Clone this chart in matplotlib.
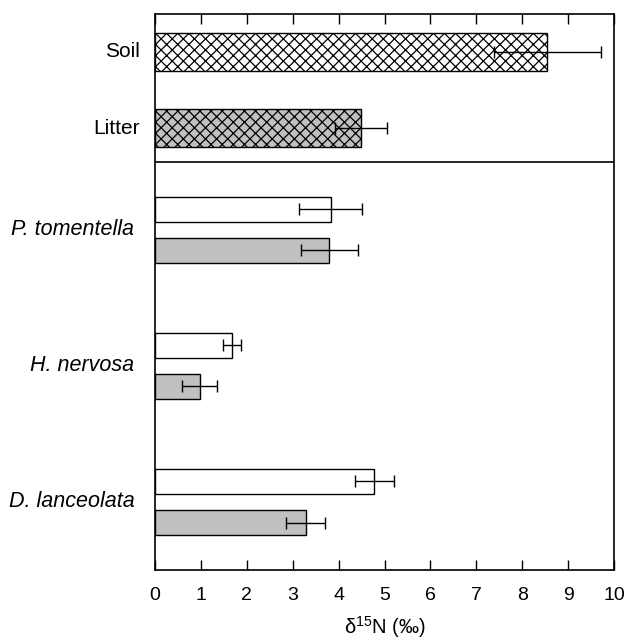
import matplotlib
matplotlib.use("Agg")
import matplotlib.pyplot as plt
import numpy as np

plt.rcParams['font.family'] = ['Liberation Sans', 'DejaVu Sans']

# Substrate values
substrates = ["Soil", "Litter"]
substrate_mean = [8.55, 4.49]
substrate_err = [1.16, 0.56]

# Species values (white = first series, grey = second series)
species = ["P. tomentella", "H. nervosa", "D. lanceolata"]
white_mean = [3.83, 1.68, 4.78]
white_err = [0.69, 0.19, 0.42]
grey_mean = [3.80, 0.97, 3.28]
grey_err = [0.62, 0.38, 0.42]

xticks = [0, 1, 2, 3, 4, 5, 6, 7, 8, 9, 10]

fig = plt.figure(figsize=(6.27, 6.40), dpi=100)
ax = fig.add_axes([155/627, 1-570/640, (614-155)/627, (570-14)/640])

grey = "#c0c0c0"
plt.rcParams['hatch.linewidth'] = 0.9

# layout positions
sub_pos = [-1.307, -0.748]
sub_h = 0.28
sp_pos = np.arange(len(species))
off = 0.151
sp_h = 0.18
ekw = dict(ecolor='black', elinewidth=1.0, capsize=4.5, capthick=1.0)

ax.barh(sub_pos[0], substrate_mean[0], height=sub_h, color='white', edgecolor='black',
        hatch='xxx', linewidth=1.0, xerr=substrate_err[0], error_kw=ekw)
ax.barh(sub_pos[1], substrate_mean[1], height=sub_h, color=grey, edgecolor='black',
        hatch='xxx', linewidth=1.0, xerr=substrate_err[1], error_kw=ekw)

ax.barh(sp_pos - off, white_mean, height=sp_h, color='white', edgecolor='black',
        linewidth=1.0, xerr=white_err, error_kw=ekw)
ax.barh(sp_pos + off, grey_mean, height=sp_h, color=grey, edgecolor='black',
        linewidth=1.0, xerr=grey_err, error_kw=ekw)

ax.axhline(-0.5, color='black', linewidth=1.2)

ax.set_xlim(0, 10)
ax.set_ylim(2.5, -1.586)
ax.set_xticks(xticks)
ax.set_xticklabels([str(t) for t in xticks], fontsize=14)
ax.tick_params(axis='x', direction='in', length=7, width=1.0, top=True, bottom=True, pad=12)
ax.set_yticks([])
for s in ax.spines.values():
    s.set_linewidth(1.2)

for p, lab in zip(sub_pos, substrates):
    ax.text(-0.33, p, lab, ha='right', va='center', fontsize=15)
for p, lab in zip(sp_pos, species):
    ax.text(-0.45, p, lab, ha='right', va='center', fontsize=15.5, style='italic')

fig.text(384.5/627, 1-627/640, r"$\mathregular{\delta^{15}}$N (‰)", fontsize=14.5,
         ha='center', va='center')

fig.savefig("out.png", dpi=100)
